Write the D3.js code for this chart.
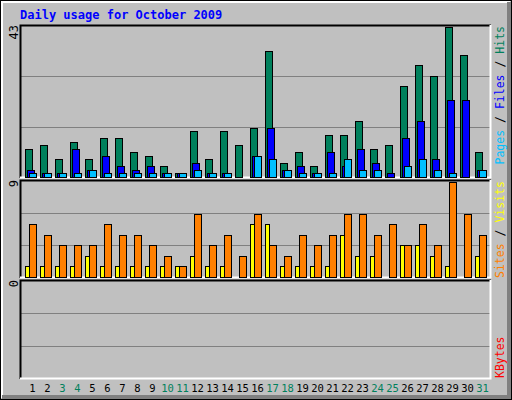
<!DOCTYPE html>
<html><head><meta charset="utf-8">
<script src="https://cdn.jsdelivr.net/npm/d3@7"></script>
<style>body{margin:0;background:#fff}svg{display:block}</style>
</head><body><svg id="c" width="512" height="400"></svg>
<script>
const days = d3.range(1, 32);
const weekend = [3,4,10,11,17,18,24,25,31];
const hits  = [8,9,5,10,5,11,11,7,6,3,1,13,5,13,9,14,36,4,7,3,12,12,16,8,9,26,32,29,43,35,7];
const files = [2,1,1,8,2,6,3,2,3,1,1,4,1,1,0,6,14,2,3,1,7,3,8,4,1,11,16,5,22,22,2];
const pages = [1,1,1,1,2,1,1,1,1,1,1,2,1,1,0,6,5,2,1,1,1,5,2,2,0,3,5,2,1,0,2];
const visits= [5,4,3,3,3,5,4,4,3,2,1,6,3,4,2,6,3,2,4,3,4,6,6,4,5,3,5,3,9,6,4];
const sites = [1,1,1,1,2,1,1,1,1,1,1,2,1,1,0,5,5,1,1,1,1,4,2,2,0,3,3,2,1,0,2];
const maxTop = 43, maxMid = 9;

const svg = d3.select("#c");
const font = "'DejaVu Sans Mono', monospace";
svg.append("rect").attr("x",0).attr("y",0).attr("width",512).attr("height",400).attr("fill","#c0c0c0");
svg.append("path").attr("d","M1.5,398V1.5H510").attr("stroke","#fff").attr("stroke-width",3).attr("fill","none");
svg.append("path").attr("d","M2,397.5H509.5V2").attr("stroke","#808080").attr("stroke-width",5).attr("fill","none");
svg.append("rect").attr("x",0.5).attr("y",0.5).attr("width",511).attr("height",399).attr("fill","none").attr("stroke","#000");

svg.append("text").attr("x",20).attr("y",19).attr("fill","#0000ff").attr("font-family",font)
  .attr("font-weight","bold").attr("font-size",12).text("Daily usage for October 2009");

const X0 = 20, X1 = 491;
const x = d3.scaleLinear().domain([1, 2]).range([25, 40]);

function panel(y0, y1, max){
  const g = svg.append("g");
  g.append("rect").attr("x",X0).attr("y",y0).attr("width",X1-X0).attr("height",y1-y0).attr("fill","#c0c0c0");
  [1/3, 2/3].forEach(f=>{
    const yy = Math.round(y0 + (y1-y0)*f)+0.5;
    g.append("line").attr("x1",X0).attr("x2",X1).attr("y1",yy).attr("y2",yy).attr("stroke","#808080");
  });
  g.append("path").attr("d",`M${X0+0.5},${y1}V${y0+0.5}H${X1}`).attr("stroke","#000").attr("fill","none").attr("stroke-width",2);
  g.append("path").attr("d",`M${X0},${y1-0.5}H${X1-0.5}V${y0}`).attr("stroke","#fff").attr("fill","none").attr("stroke-width",2);
  return d3.scaleLinear().domain([0, max]).range([y1-1.5, y0+2]);
}

function bars(data, y, off, w, color){
  svg.append("g").selectAll("rect").data(data.map((v,i)=>({d:days[i],v})).filter(o=>o.v>0))
    .join("rect")
    .attr("x", o=>x(o.d)+off+0.5).attr("width", w)
    .attr("y", o=>Math.round(y(o.v))+0.5).attr("height", o=>Math.round(y(0))-Math.round(y(o.v)))
    .attr("fill", color).attr("stroke","#000");
}

const yT = panel(25, 178, maxTop);
bars(hits, yT, 0, 7, "#00805c");
bars(files, yT, 2, 7, "#0000ff");
bars(pages, yT, 4, 7, "#00c0ff");

const yM = panel(180, 278, maxMid);
bars(sites, yM, 0, 4, "#ffff00");
bars(visits, yM, 4, 7, "#ff8000");

panel(280, 379, 1);

// day labels
svg.append("g").selectAll("text").data(days).join("text")
  .attr("x", d=>x(d)+7.5).attr("y", 392).attr("text-anchor","middle")
  .attr("font-family",font).attr("font-size",10.5)
  .attr("fill", d=>weekend.includes(d)?"#00805c":"#000").text(d=>d);

// left value labels
function vlab(txt, cx, top){
  svg.append("text").attr("transform",`translate(${cx},${top}) rotate(-90)`).attr("text-anchor","end")
    .attr("font-family",font).attr("font-size",12).attr("fill","#000").text(txt);
}
vlab("43", 18, 25); vlab("9", 18, 180); vlab("0", 18, 280);

// right legends
function legend(parts, cx, pos, anchor){
  const t = svg.append("text").attr("transform",`translate(${cx},${pos}) rotate(-90)`).attr("text-anchor",anchor)
    .attr("font-family",font).attr("font-size",11.5);
  parts.forEach(([s,c])=>t.append("tspan").attr("fill",c).text(s));
}
legend([["Pages","#00c0ff"],[" / ","#000"],["Files","#0000ff"],[" / ","#000"],["Hits","#00805c"]], 504, 26, "end");
legend([["Sites","#ff8000"],[" / ","#000"],["Visits","#ffff00"]], 504, 278, "start");
legend([["KBytes","#ff0000"]], 504, 378, "start");
</script></body></html>
